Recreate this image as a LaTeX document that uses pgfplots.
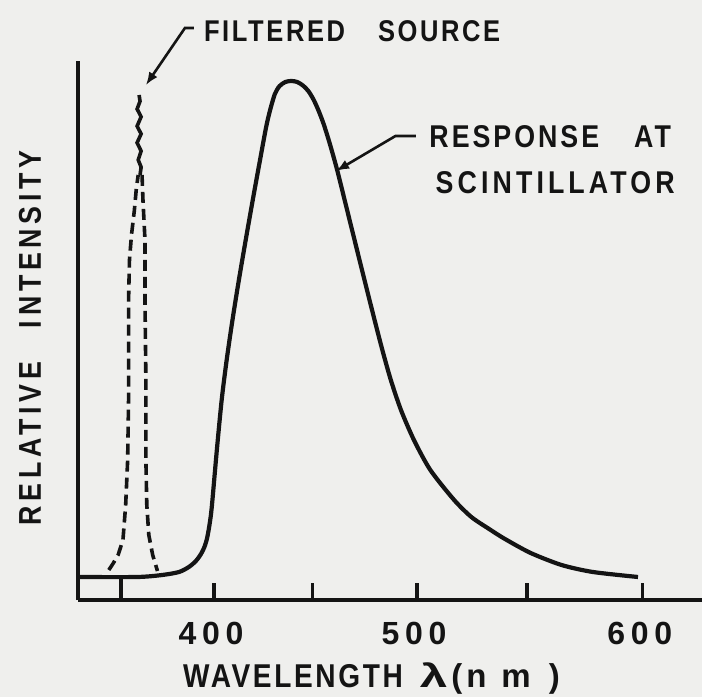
\documentclass[border=0pt]{standalone}
\usepackage{pgfplots}
\pgfplotsset{compat=1.18}
\usepackage{fontspec}
\setmainfont{Liberation Sans}
\newfontfamily\lbl{Liberation Sans}[FakeStretch=0.85]
\newfontfamily\dig{Liberation Sans}
\newfontfamily\wide{Liberation Sans}[FakeStretch=1.5]
\usetikzlibrary{arrows.meta}
\definecolor{bg}{RGB}{239,239,237}
\definecolor{ink}{RGB}{20,20,20}
\newcommand\tf[2]{\lbl\bfseries\fontsize{#1}{#1}\selectfont\addfontfeature{LetterSpace=#2}}
\newcommand\td[2]{\dig\bfseries\fontsize{#1}{#1}\selectfont\addfontfeature{LetterSpace=#2}}
\begin{document}
\begin{tikzpicture}[x=1pt,y=1pt]
\path[use as bounding box, fill=bg] (-78,-97) rectangle (624,600);
\begin{axis}[
  at={(0,0)}, anchor=south west,
  scale only axis, width=624pt, height=539pt,
  x coord trafo/.code={\pgfmathparse{#1+5.442*((#1-475)/100)*((#1-475)/100)}},
  xmin=325.8, xmax=624.7, ymin=0, ymax=1.0385,
  axis x line=bottom, axis y line=left,
  axis line style={line width=3.6pt, ink, -},
  xtick={400,450,500,550,600}, xticklabels={400,,500,,600},
  extra x ticks={350}, extra x tick labels={},
  extra x tick style={major tick length=23pt},
  ytick=\empty,
  tick align=inside, major tick length=17pt,
  tick style={line width=3.2pt, ink},
  xticklabel style={font={\td{32pt}{18}}, text=ink, inner sep=0pt, anchor=base, yshift=-44pt, xshift=-3pt},
  every axis x label/.style={at={(axis description cs:0.1683,-0.1614)}, anchor=base west, inner sep=0pt, font={\tf{33pt}{8}}, text=ink},
  every axis y label/.style={at={(axis description cs:-0.0769,0.486)}, rotate=90, anchor=center, inner sep=0pt, font={\tf{31.5pt}{15}}, text=ink},
  xlabel={WAVELENGTH\hspace{17pt}{\wide\bfseries\fontsize{33pt}{33pt}\selectfont λ}{\td{33pt}{8}\hspace{4pt}(\hspace{4pt}n\hspace{15pt}m\hspace{18pt})}},
  ylabel={RELATIVE\hspace{34pt}INTENSITY},
  clip=false,
]
% response at scintillator
\addplot[ink, line width=4.2pt, smooth, tension=0.45] coordinates {
(325.8,0.0443) (358.9,0.0443) (372.6,0.0482) (381.6,0.054) (386.8,0.0636)
(390.5,0.0751) (393.2,0.0886) (395.0,0.1021) (396.3,0.1175) (397.4,0.1387)
(398.4,0.1638) (399.2,0.1927) (401.5,0.289) (404.0,0.385) (406.6,0.4624)
(409.6,0.5395) (412.9,0.6166) (416.4,0.6936) (420.0,0.7707) (423.7,0.8478)
(426.8,0.9114) (428.8,0.944) (431.2,0.975) (433.5,0.990) (436.4,0.998)
(439.4,1.0) (442.4,0.998) (445.3,0.991) (448.0,0.980) (450.6,0.963)
(453.0,0.942) (455.5,0.916) (458.5,0.878) (462.0,0.8285) (465.6,0.771)
(469.2,0.713) (472.8,0.655) (476.4,0.597) (480.0,0.5395) (483.7,0.4817)
(487.7,0.424) (492.5,0.366) (498.6,0.308) (506.2,0.2505) (517.1,0.193)
(525.0,0.160) (533.0,0.137) (540.0,0.118) (551.6,0.0906) (565.2,0.0674)
(578.7,0.054) (598.0,0.0443)
};
% filtered source, left branch
\addplot[ink, line width=3.6pt, dash pattern=on 11pt off 6pt] coordinates {
(343.2,0.0578) (345.8,0.0713) (348.4,0.0867) (351.1,0.1156) (352.6,0.183)
(353.7,0.2697) (354.2,0.385) (354.2,0.578) (354.7,0.655) (355.8,0.703)
(357.4,0.751) (358.4,0.790) (359.5,0.819)
};
% filtered source, right branch
\addplot[ink, line width=3.6pt, dash pattern=on 11pt off 6pt] coordinates {
(361.6,0.819) (362.1,0.771) (363.2,0.694) (363.2,0.578) (363.7,0.424)
(363.7,0.270) (364.2,0.183) (365.3,0.125) (367.4,0.0867) (370.0,0.0559)
};
% filtered source, top
\addplot[ink, line width=3.6pt] coordinates {
(360.0,0.973) (360.5,0.961) (358.9,0.946) (361.1,0.931) (358.9,0.913)
(361.1,0.898) (358.9,0.881) (361.1,0.865) (359.5,0.848) (361.1,0.834)
(360.5,0.819)
};
% annotations
\node[anchor=base west, font={\tf{30pt}{8.7}}, text=ink, inner sep=0pt] at (axis cs:394.7,1.077) {FILTERED\hspace{33pt}SOURCE};
\draw[ink, line width=2.6pt, -{Latex[length=13pt,width=10pt]}] (axis cs:389.5,1.102) -- (axis cs:384.7,1.102) -- (axis cs:363.7,0.992);
\node[anchor=base west, font={\tf{31.5pt}{9.5}}, text=ink, inner sep=0pt] at (axis cs:505.7,0.871) {RESPONSE\hspace{35pt}AT};
\node[anchor=base west, font={\tf{31.5pt}{13}}, text=ink, inner sep=0pt] at (axis cs:508.6,0.784) {SCINTILLATOR};
\draw[ink, line width=2.6pt, -{Latex[length=13pt,width=10pt]}] (axis cs:499.5,0.894) -- (axis cs:489.9,0.894) -- (axis cs:461.5,0.8266);
\end{axis}
\end{tikzpicture}
\end{document}
